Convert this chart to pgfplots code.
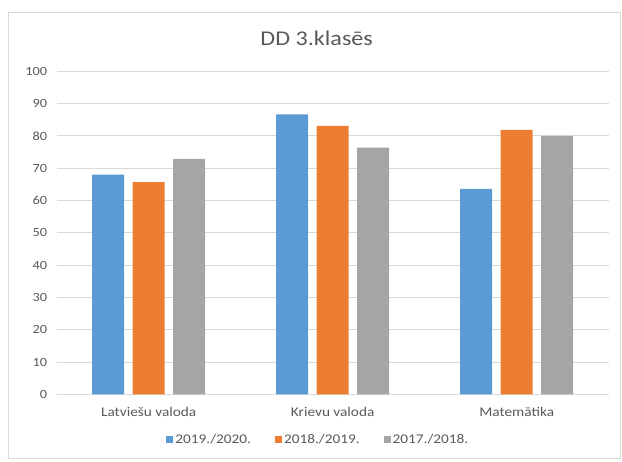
\documentclass[border=0pt]{standalone}
\usepackage{fontspec}
\setmainfont{Carlito}[FakeStretch=1.15]
\usepackage{pgfplots}
\pgfplotsset{compat=1.18}
\definecolor{cblue}{HTML}{5B9BD5}
\definecolor{corange}{HTML}{ED7D31}
\definecolor{cgray}{HTML}{A5A5A5}
\definecolor{txt}{HTML}{595959}
\definecolor{gridc}{HTML}{D9D9D9}
\begin{document}
\begin{tikzpicture}[x=1pt,y=1pt]
\path (0,0) rectangle (622,462);
\draw[gridc, line width=0.8pt] (8,4) rectangle (620,450);
\node[anchor=base, text=txt, font=\fontsize{21}{24}\selectfont] at (316.7,416.3) {DD 3.klasēs};
\begin{axis}[
  at={(56.7pt,67.7pt)}, anchor=south west,
  scale only axis, width=552pt, height=323pt,
  ybar=8.5pt, bar width=32pt,
  xmin=-0.5, xmax=2.5, ymin=0, ymax=100,
  xtick={0,1,2},
  xticklabels={Latviešu valoda, Krievu valoda, Matemātika},
  ytick={0,10,...,100},
  /pgf/number format/assume math mode=true,
  tick style={draw=none},
  axis x line*=bottom, axis y line*=left,
  axis line style={-},
  x axis line style={draw=gridc, line width=0.8pt},
  y axis line style={draw=none},
  ymajorgrids, grid style={draw=gridc, line width=0.8pt},
  ticklabel style={text=txt},
  yticklabel style={font=\fontsize{12.5}{14}\selectfont, xshift=-6pt},
  xticklabel style={font=\fontsize{13.3}{15}\selectfont, yshift=-5pt},
  legend columns=3,
  legend style={at={(0.474,-0.1415)}, anchor=center, draw=none, fill=none,
    font=\fontsize{13.3}{15}\selectfont, text=txt,
    /tikz/every even column/.append style={column sep=22pt},
    inner sep=0pt},
  legend image code/.code={\fill[#1] (0pt,-3.5pt) rectangle (7pt,3.5pt);},
  every axis plot/.append style={draw=none},
]
\addplot[fill=cblue] coordinates {(0,68) (1,86.7) (2,63.6)};
\addplot[fill=corange] coordinates {(0,65.7) (1,83.1) (2,81.9)};
\addplot[fill=cgray] coordinates {(0,72.9) (1,76.4) (2,80)};
\legend{2019./2020., 2018./2019., 2017./2018.}
\end{axis}
\end{tikzpicture}
\end{document}
